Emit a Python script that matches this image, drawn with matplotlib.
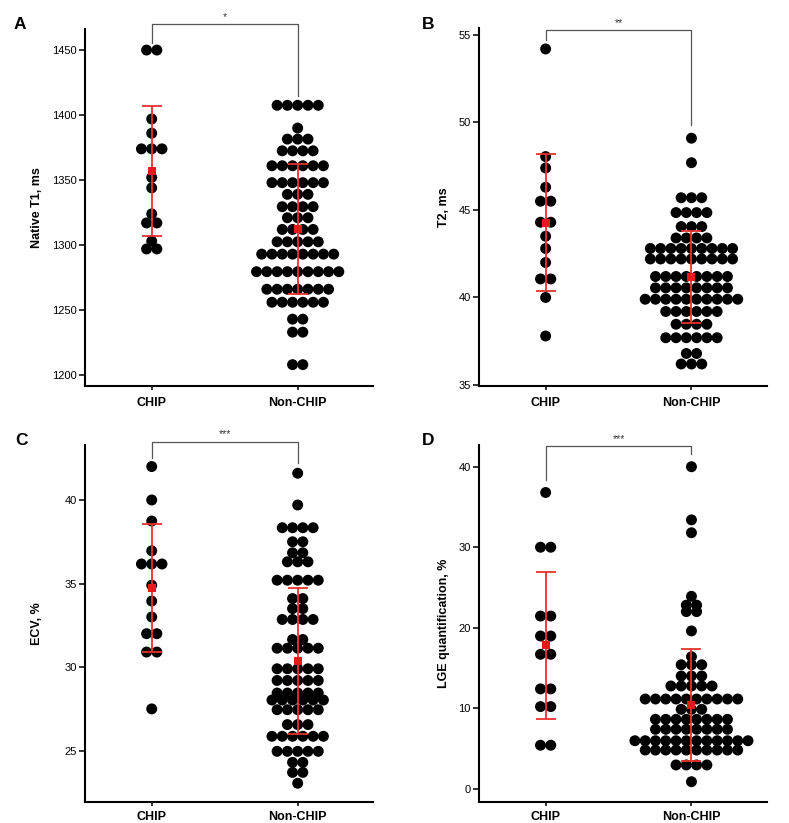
import numpy as np
import matplotlib
matplotlib.use('Agg')
import matplotlib.pyplot as plt

plt.rcParams['font.family'] = ['Liberation Sans', 'DejaVu Sans']

groups = ['CHIP', 'Non-CHIP']

# ---------------- Panel A: Native T1 (ms) ----------------
t1_chip_vals = [1450, 1397, 1386, 1374, 1352, 1344, 1324, 1317, 1303, 1297]
t1_chip_counts = [2, 1, 1, 3, 1, 1, 1, 2, 1, 2]
t1_nc_vals = [1407.5, 1390, 1381.5, 1372.5, 1361, 1348, 1339, 1329.5, 1321, 1312,
              1302.5, 1293, 1279.5, 1266, 1256, 1243, 1233, 1208]
t1_nc_counts = [5, 1, 3, 4, 6, 6, 3, 4, 3, 4, 5, 8, 9, 7, 6, 2, 2, 2]
t1_mean = [1357, 1312]
t1_sd = [50, 50]

# ---------------- Panel B: T2 (ms) ----------------
t2_chip_vals = [54.2, 48.05, 47.4, 46.3, 45.5, 44.3, 43.5, 42.8, 42.0, 41.06, 40.0, 37.8]
t2_chip_counts = [1, 1, 1, 1, 2, 2, 1, 1, 1, 2, 1, 1]
t2_nc_vals = [49.1, 47.7, 45.7, 44.85, 44.05, 43.4, 42.8, 42.2, 41.2, 40.55, 39.9,
              39.2, 38.47, 37.7, 36.8, 36.2]
t2_nc_counts = [1, 1, 3, 4, 3, 4, 9, 9, 8, 8, 10, 6, 4, 6, 2, 3]
t2_mean = [44.28, 41.15]
t2_sd = [3.92, 2.63]

# ---------------- Panel C: ECV (%) ----------------
ecv_chip_vals = [42.0, 40.0, 38.74, 36.96, 36.17, 34.9, 33.95, 33.0, 32.0, 30.9, 27.5]
ecv_chip_counts = [1, 1, 1, 1, 3, 1, 1, 1, 2, 2, 1]
ecv_nc_vals = [41.6, 39.7, 38.34, 37.5, 36.84, 36.3, 35.2, 34.1, 33.5, 32.85, 31.65,
               31.13, 29.9, 29.2, 28.45, 28.03, 27.45, 26.56, 25.86, 24.96, 24.3,
               23.7, 23.05]
ecv_nc_counts = [1, 1, 4, 2, 2, 3, 5, 2, 2, 4, 2, 5, 5, 5, 5, 6, 5, 3, 6, 5, 2, 2, 1]
ecv_mean = [34.75, 30.37]
ecv_sd = [3.83, 4.39]

# ---------------- Panel D: LGE quantification (%) ----------------
lge_chip_vals = [36.8, 30.0, 21.45, 18.97, 16.7, 12.4, 10.2, 5.4]
lge_chip_counts = [1, 2, 2, 2, 2, 2, 2, 2]
lge_nc_vals = [40.0, 33.4, 31.8, 23.9, 22.8, 22.0, 19.6, 16.4, 15.4, 14.0, 12.76,
               11.14, 9.86, 8.62, 7.38, 5.96, 4.8, 2.95, 0.87]
lge_nc_counts = [1, 1, 1, 1, 2, 2, 1, 1, 3, 3, 5, 10, 3, 8, 8, 12, 10, 4, 1]
lge_mean = [17.84, 10.35]
lge_sd = [9.13, 6.97]

panels = [
    dict(letter='A', ylabel='Native T1, ms',
         chip=(t1_chip_vals, t1_chip_counts), nc=(t1_nc_vals, t1_nc_counts),
         mean=t1_mean, sd=t1_sd, ylim=(1191.8, 1466.2),
         yticks=[1200, 1250, 1300, 1350, 1400, 1450],
         sig='*', br=(1469.8, 1455.6, 1414.6)),
    dict(letter='B', ylabel='T2, ms',
         chip=(t2_chip_vals, t2_chip_counts), nc=(t2_nc_vals, t2_nc_counts),
         mean=t2_mean, sd=t2_sd, ylim=(34.96, 55.38),
         yticks=[35, 40, 45, 50, 55],
         sig='**', br=(55.29, 54.71, 49.86)),
    dict(letter='C', ylabel='ECV, %',
         chip=(ecv_chip_vals, ecv_chip_counts), nc=(ecv_nc_vals, ecv_nc_counts),
         mean=ecv_mean, sd=ecv_sd, ylim=(21.91, 43.29),
         yticks=[25, 30, 35, 40],
         sig='***', br=(43.49, 42.5, 42.2)),
    dict(letter='D', ylabel='LGE quantification, %',
         chip=(lge_chip_vals, lge_chip_counts), nc=(lge_nc_vals, lge_nc_counts),
         mean=lge_mean, sd=lge_sd, ylim=(-1.69, 42.7),
         yticks=[0, 10, 20, 30, 40],
         sig='***', br=(42.57, 38.35, 41.54)),
]

W, H = 789, 823
fig = plt.figure(figsize=(W / 100, H / 100), dpi=100)

# axes boxes in pixels: (left, top, right, bottom)
boxes = [(85, 29, 373, 385.7), (479, 28.3, 766.7, 385.7),
         (85, 445, 373, 802.3), (479, 445, 766.7, 802.3)]
letter_pos = [(20, 24.8), (428.5, 24.2), (21, 440.8), (428.5, 440.8)]
ylab_x = [-0.168, -0.12, -0.168, -0.12]
xpad = [5, 5, 3.2, 3.2]

DX = 0.0705          # horizontal spacing of dots (data units)
xpos = [1, 2]
dot_color = 'black'
red = '#e41a1c'
bar_red = '#e8322c'

for i, p in enumerate(panels):
    l, t, r, b = boxes[i]
    ax = fig.add_axes([l / W, 1 - b / H, (r - l) / W, (b - t) / H])

    for gi, (vals, counts) in enumerate([p['chip'], p['nc']]):
        xs, ys = [], []
        for v, n in zip(vals, counts):
            offs = (np.arange(n) - (n - 1) / 2.0) * DX
            xs.extend(xpos[gi] + offs)
            ys.extend([v] * n)
        ax.scatter(xs, ys, s=62, color=dot_color, edgecolors='none', zorder=2)

    ax.errorbar(xpos, p['mean'], yerr=p['sd'], fmt='none', ecolor=bar_red,
                elinewidth=1.3, capsize=7, capthick=1.3, zorder=3)
    ax.plot(xpos, p['mean'], linestyle='none', marker='s', markersize=6,
            color=red, markeredgewidth=0, zorder=4)

    ax.set_xlim(0.543, 2.516)
    ax.set_ylim(*p['ylim'])
    ax.set_yticks(p['yticks'])
    ax.set_xticks(xpos)
    ax.set_xticklabels(groups, fontsize=9, fontweight='bold')
    ax.tick_params(axis='y', length=4.5, width=1.1, pad=1.5, labelsize=8)
    ax.tick_params(axis='x', length=3, width=1.1, pad=xpad[i])
    for s in ['top', 'right']:
        ax.spines[s].set_visible(False)
    for s in ['left', 'bottom']:
        ax.spines[s].set_linewidth(1.5)

    ax.set_ylabel(p['ylabel'], fontsize=9, fontweight='bold', va='center')
    ax.yaxis.set_label_coords(ylab_x[i], 0.5)

    # significance bracket
    ytop, yl, yr = p['br']
    ax.plot([xpos[0], xpos[0], xpos[1], xpos[1]], [yl, ytop, ytop, yr],
            color='#555555', linewidth=0.9, clip_on=False, zorder=5)
    ax.annotate(p['sig'], xy=(1.5, ytop), xytext=(0, 1.5),
                textcoords='offset points', ha='center', va='bottom',
                fontsize=7.5, color='#333333', annotation_clip=False)

    lx, ly = letter_pos[i]
    fig.text(lx / W, 1 - ly / H, p['letter'], fontsize=12.5, fontweight='bold',
             ha='center', va='center')

fig.savefig('out.png', dpi=100)
